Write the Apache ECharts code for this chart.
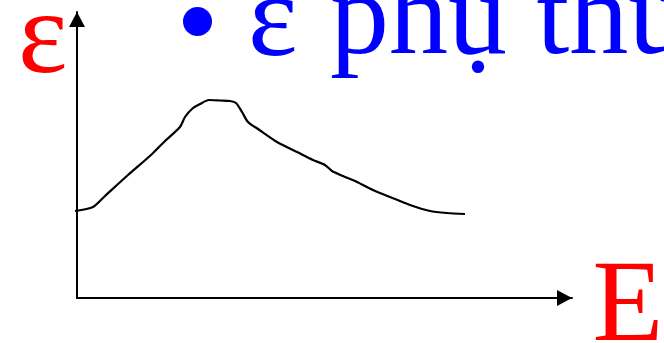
<!DOCTYPE html>
<html>
<head>
<meta charset="utf-8">
<script src="https://cdn.jsdelivr.net/npm/echarts@6/dist/echarts.min.js"></script>
<style>
  html, body { margin: 0; padding: 0; background: #fff; }
  #chart { width: 664px; height: 343px; }
</style>
</head>
<body>
<div id="chart"></div>
<script>
// Sketch of ε as a function of E (arbitrary units)
var energy = [-2, 16, 28, 51, 74, 88, 103, 108, 116, 123, 132, 143, 153, 159, 165, 171, 181, 200, 220, 236, 248, 255, 266, 280, 296, 313, 333, 353, 370, 388];
var epsilon = [87, 91, 102, 123, 143, 157, 171, 181, 190, 194, 198, 197.5, 197, 195, 186, 176, 169, 156, 146, 138, 133, 127, 122, 116, 108, 101, 93, 87, 85, 84];
var points = energy.map(function (e, i) { return [e, epsilon[i]]; });

var chart = echarts.init(document.getElementById('chart'));
chart.setOption({
  animation: false,
  grid: { left: 77, right: 92, top: 12, bottom: 45, containLabel: false },
  xAxis: {
    type: 'value', min: 0, max: 495,
    axisLine: { show: true, onZero: false, lineStyle: { color: '#000', width: 2 },
      symbol: ['none', 'triangle'], symbolSize: [16, 15], symbolOffset: [0, -7.5] },
    axisTick: { show: false }, axisLabel: { show: false }, splitLine: { show: false }
  },
  yAxis: {
    type: 'value', min: 0, max: 286,
    axisLine: { show: true, onZero: false, lineStyle: { color: '#000', width: 2 },
      symbol: ['none', 'triangle'], symbolSize: [16, 15], symbolOffset: [0, -7.5] },
    axisTick: { show: false }, axisLabel: { show: false }, splitLine: { show: false }
  },
  series: [{
    type: 'line',
    data: points,
    smooth: 0.25,
    showSymbol: false,
    clip: false,
    lineStyle: { color: '#000', width: 2.2 }
  }],
  graphic: [
    { type: 'text', x: 18, y: -18,
      style: { text: 'ε', fill: '#ff0000', font: '118px "Liberation Serif"' } },
    { type: 'circle', shape: { cx: 197.5, cy: 21.5, r: 14.5 }, style: { fill: '#0000ff' } },
    { type: 'text', x: 248, y: -35,
      style: { text: 'ε', fill: '#0000ff', font: '118px "Liberation Serif"' } },
    { type: 'text', x: 330, y: -36.5,
      style: { text: 'phụ thuộc', fill: '#0000ff', font: '118px "Liberation Serif"' } },
    { type: 'text', x: 592.5, y: 252,
      style: { text: 'E', fill: '#ff0000', font: '116px "Liberation Serif"' } }
  ]
});
</script>
</body>
</html>
